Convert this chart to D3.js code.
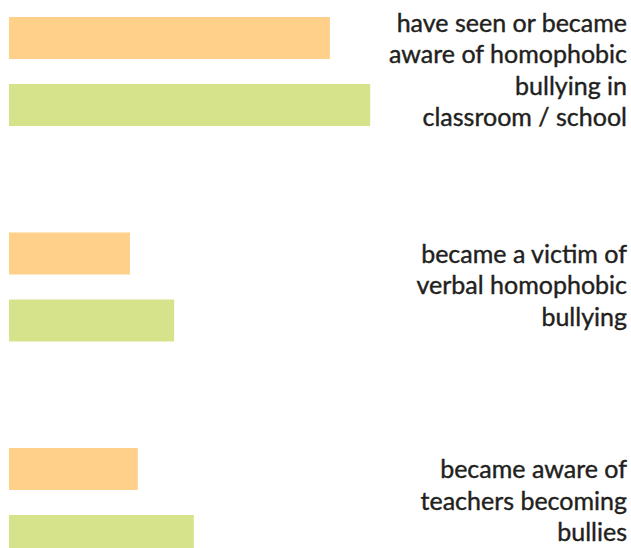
<!DOCTYPE html>
<html>
<head>
<meta charset="utf-8">
<script src="https://cdn.jsdelivr.net/npm/d3@7"></script>
<style>
  html, body { margin: 0; padding: 0; background: #fff; }
  svg { display: block; }
</style>
</head>
<body>
<svg id="chart" width="631" height="548"></svg>
<script>
const categories = [
  "have seen or became aware of homophobic bullying in classroom / school",
  "became a victim of verbal homophobic bullying",
  "became aware of teachers becoming bullies"
];
const labelLines = [
  ["have seen or became", "aware of homophobic", "bullying in", "classroom / school"],
  ["became a victim of", "verbal homophobic", "bullying"],
  ["became aware of", "teachers becoming", "bullies"]
];
const seriesNames = ["Series 1", "Series 2"];
const series1Values = [57.3, 21.6, 23.0];
const series2Values = [64.5, 29.5, 33.0];
const seriesColors = ["#fed08a", "#d7e38b"];

const svg = d3.select("#chart");

const y = d3.scaleBand()
  .domain(categories)
  .range([17, 557])
  .paddingInner(0.494)
  .paddingOuter(0);

const ySub = d3.scaleBand()
  .domain(seriesNames)
  .range([0, y.bandwidth()])
  .paddingInner(0.373)
  .paddingOuter(0);

const x = d3.scaleLinear().domain([0, 100]).range([9, 569]);

const rows = categories.map((c, i) => ({
  category: c,
  lines: labelLines[i],
  values: [series1Values[i], series2Values[i]]
}));

const g = svg.selectAll("g.group")
  .data(rows)
  .join("g")
  .attr("class", "group")
  .attr("transform", d => `translate(0,${y(d.category)})`);

g.selectAll("rect")
  .data(d => d.values.map((v, j) => ({ name: seriesNames[j], value: v, color: seriesColors[j] })))
  .join("rect")
  .attr("x", x(0))
  .attr("y", d => ySub(d.name))
  .attr("width", d => x(d.value) - x(0))
  .attr("height", ySub.bandwidth())
  .attr("fill", d => d.color);

const lineH = 31.5;
g.append("text")
  .attr("text-anchor", "end")
  .attr("font-family", "Lato, sans-serif")
  .attr("font-size", 25)
  .attr("fill", "#231f20")
  .attr("stroke", "#231f20")
  .attr("stroke-width", 0.4)
  .each(function(d) {
    const t = d3.select(this);
    const n = d.lines.length;
    const mid = y.bandwidth() / 2 + 7.5;
    d.lines.forEach((line, k) => {
      t.append("tspan")
        .attr("x", 627)
        .attr("y", mid - (n - 1) / 2 * lineH + k * lineH)
        .text(line);
    });
  });
</script>
</body>
</html>
